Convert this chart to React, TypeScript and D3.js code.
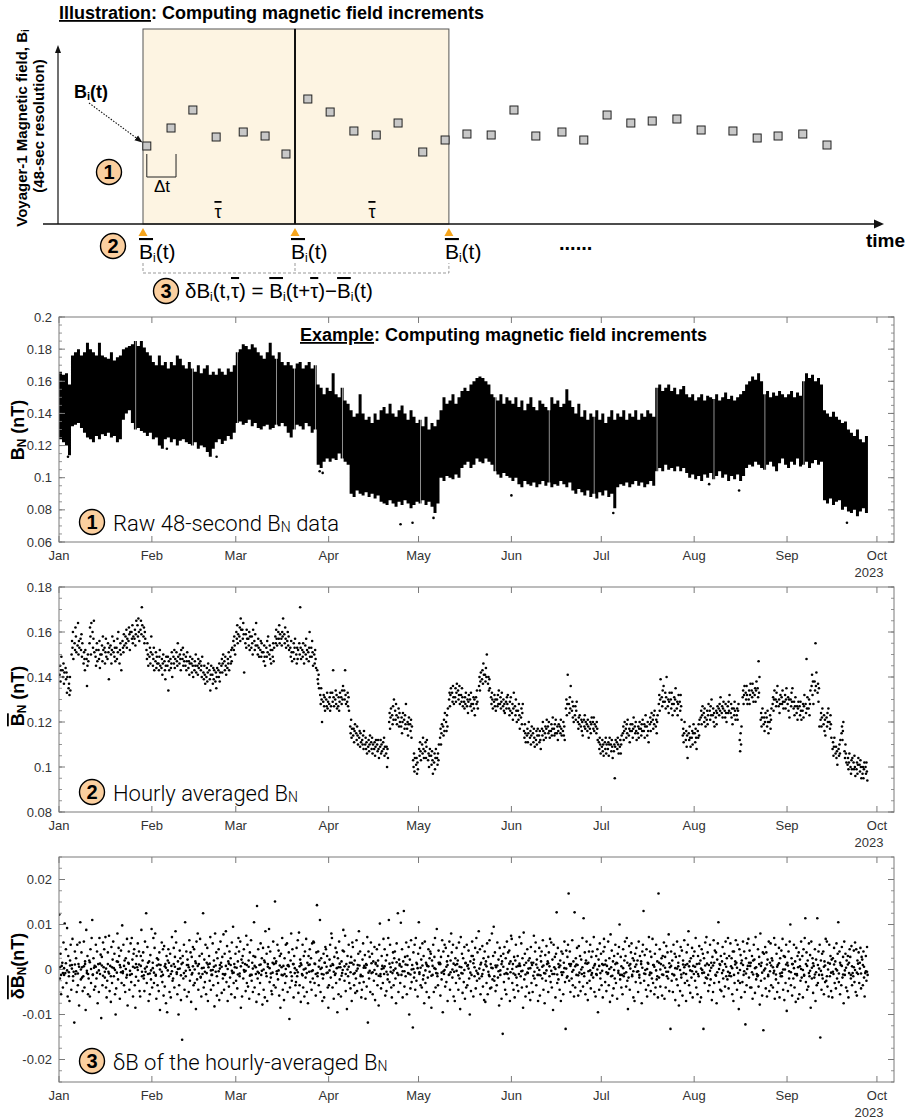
import React from "react";
import * as d3 from "d3";

// ---------------- DATA ----------------
const MONTH_START = [0, 31, 59, 90, 120, 151, 181, 212, 243];
const YEAR_LABEL = "2023";

// Illustration: sample times (s, 48-s cadence) and field values (arbitrary units)
const illusTimes = [8, 59, 105, 154, 211, 257, 301, 347, 394, 444, 491, 537, 589, 636, 682, 733, 781, 827, 882, 928, 977, 1027, 1072, 1124, 1175, 1242, 1293, 1337, 1389, 1440];
const illusValues = [78, 96, 114, 87, 92, 88, 70, 125, 112, 93, 89, 101, 72, 84, 90, 89, 114, 88, 92, 84, 109, 101, 103, 105, 94, 93, 86, 88, 90, 79];
const windowEdges = [0, 320, 644];

// Panel 1: raw 48-s BN daily envelope, "low high" in 0.001 nT
const rawMonths = [
  "124 166,122 164,120 165,114 158,132 176,133 178,134 180,131 176,128 178,125 184,124 180,122 178,126 176,124 184,127 176,126 175,128 174,125 178,126 173,122 175,124 176,136 180,140 181,142 182,134 183,130 185,131 182,129 185,128 181,126 178,128 176",
  "124 172,125 170,120 176,118 170,124 172,125 168,122 172,124 170,120 176,123 174,124 170,122 168,121 172,120 168,122 166,118 170,120 165,119 168,116 170,113 164,118 166,122 164,124 168,121 166,123 164,126 168,124 166,128 170",
  "134 178,135 180,133 183,134 182,136 180,132 183,134 181,131 178,130 176,132 174,133 178,130 184,131 176,133 174,132 178,134 172,132 170,128 172,125 170,130 168,133 171,132 172,130 168,134 170,132 172,128 168,130 170,108 158,106 156,110 152,112 156",
  "110 154,112 165,111 152,115 150,112 156,110 148,108 146,90 142,88 138,92 140,90 152,89 140,91 136,88 138,90 134,87 140,89 136,85 142,84 144,83 140,86 146,84 140,82 138,85 142,83 145,86 140,84 136,81 142,83 138,85 134",
  "84 136,86 132,83 138,85 130,82 134,78 132,84 136,100 142,98 150,101 146,100 148,99 152,102 146,100 150,106 154,108 156,110 154,106 158,108 160,112 162,110 163,109 162,112 160,110 158,108 152,104 150,102 148,100 152,103 146,101 150,100 148",
  "98 146,100 150,96 144,94 148,98 142,96 146,95 150,97 144,94 142,96 148,98 146,95 144,97 142,94 150,96 146,95 148,98 144,96 146,94 155,97 148,92 144,90 140,93 146,91 138,89 142,92 136,88 140,90 138,87 142,91 136",
  "89 140,92 134,88 138,90 142,81 136,94 140,96 138,95 142,97 136,94 140,96 138,98 142,95 136,97 140,94 138,96 142,98 140,95 138,104 156,106 158,104 154,108 156,105 158,106 154,104 156,107 152,104 155,106 157,103 152,100 150,102 152",
  "99 148,101 150,98 152,102 148,100 151,103 150,99 149,101 152,104 148,100 150,102 153,98 149,101 151,99 148,102 150,98 152,101 154,106 158,108 160,107 163,110 161,108 165,106 160,105 152,108 154,110 150,107 153,104 151,109 154,112 152,108 150",
  "106 152,110 154,108 150,112 153,107 151,108 160,110 165,106 162,109 164,111 160,108 162,110 158,86 142,84 140,87 138,83 141,85 138,86 136,80 134,82 135,79 130,78 128,80 126,76 130,79 124,81 122,78 126",
];
const rawGapDays = [25, 44, 59, 72, 78, 85, 94, 120, 145, 163, 178, 199, 218, 235, 248];
const rawOutlierDays = [3, 36, 52.6, 87, 88, 114, 118, 151, 217, 227, 263, 185, 125];
const rawOutlierValues = [0.113, 0.118, 0.113, 0.104, 0.103, 0.071, 0.072, 0.089, 0.096, 0.092, 0.072, 0.078, 0.075];

// Panel 2: hourly averaged BN, values per day in 0.001 nT
const hourlyMonths = [
  "141 145 138 143 149;143 140 146 137 142;144 139 142 133 140;135 137 132 140 134;150 156 153 160 148;155 152 162 158 151;154 164 150 156 153;157 152 159 149 155;146 151 148 143 152;148 136 145 150 147;155 162 158 150 164;160 153 157 165 151;149 145 152 155 147;152 148 156 144 150;150 154 147 158 152;153 146 151 157 149;148 155 151 139 153;154 150 146 152 158;151 156 149 153 147;153 148 157 151 160;146 152 155 150 143;156 153 151 159 154;158 155 161 153 157;156 162 159 152 160;160 157 163 155 158;157 161 154 159 165;163 158 166 160 156;161 165 159 171 163;158 162 155 160 157;152 148 155 150 145;149 153 146 151 158",
  "150 145 148 153 143;147 151 144 149 146;146 143 149 152 145;144 148 141 146 150;147 143 139 145 149;145 149 134 147 143;148 144 146 151 140;149 146 152 144 148;151 147 145 155 149;146 150 148 143 152;148 153 145 150 147;145 149 143 147 151;144 147 141 146 149;146 142 148 145 140;143 147 145 150 142;145 141 148 144 146;147 143 145 140 149;142 139 145 141 137;140 144 138 142 146;143 139 134 141 145;141 137 144 139 143;138 142 135 140 144;143 140 146 138 142;145 148 142 146 150;147 143 149 145 141;144 148 146 151 143;149 146 152 147 153;156 152 158 154 150",
  "160 157 163 155 159;158 162 156 166 161;161 157 164 159 142;155 159 153 161 157;157 154 160 152 158;153 158 155 150 161;156 152 159 154 164;154 150 157 153 149;152 156 149 155 151;151 147 154 149 145;153 149 156 151 158;150 154 148 152 146;152 149 155 147 153;158 155 161 157 154;160 157 163 155 159;157 154 160 158 166;159 155 162 157 153;156 160 154 158 152;153 149 156 151 147;151 155 148 153 157;150 146 153 148 152;155 150 171 153 148;152 149 155 151 146;154 150 157 148 152;151 147 153 160 149;153 149 156 151 145;150 146 152 148 144;143 139 137 141 135;132 128 135 130 120;129 132 127 131 125;130 127 133 126 129",
  "128 131 125 133 127;133 129 143 131 127;130 134 128 132 126;127 131 125 129 133;131 128 134 130 136;134 130 143 132 128;129 133 127 131 125;118 115 121 113 117;114 117 111 116 119;115 112 118 114 110;113 116 109 115 111;112 110 114 108 116;110 113 108 111 106;109 112 107 110 114;111 108 113 106 110;108 111 105 109 112;110 107 112 108 104;109 112 106 110 107;111 108 113 105 109;106 109 100 108 104;120 124 117 122 126;123 119 127 121 130;125 121 128 123 119;122 126 118 124 120;118 122 115 120 124;121 117 123 119 128;117 120 114 119 122;119 116 121 113 118;103 100 106 98 104;101 104 97 102 99",
  "108 105 111 107 103;110 106 113 108 104;107 111 104 109 112;103 106 100 105 108;105 101 107 103 97;102 106 99 104 108;104 101 106 103 110;113 117 110 115 119;118 114 121 116 124;120 116 123 118 126;130 133 127 132 135;133 129 136 131 128;131 135 129 133 137;134 130 132 136 128;132 129 135 131 127;129 126 131 128 133;127 130 124 129 132;130 127 133 128 125;128 131 126 130 123;131 128 134 129 126;136 140 134 138 142;139 143 137 146 141;141 138 144 140 150;137 140 134 139 135;131 128 133 130 126;129 132 127 130 125;130 127 132 128 134;128 131 126 129 133;127 130 125 128 124;129 126 131 128 132;126 123 129 125 131",
  "124 128 121 126 133;127 123 130 125 120;125 121 128 123 117;122 126 119 124 128;116 113 119 115 111;114 117 111 115 120;113 116 110 114 118;115 111 117 113 109;112 116 110 114 117;114 111 116 112 108;117 114 120 116 112;115 118 113 117 121;118 115 120 116 113;116 119 114 117 122;117 114 119 115 121;115 118 112 116 119;118 115 121 117 114;116 120 114 118 112;126 130 123 128 141;128 124 131 126 136;125 129 122 127 120;123 127 121 125 129;120 117 122 119 123;118 121 116 120 114;121 118 123 117 120;119 116 121 118 113;117 120 115 119 122;120 117 122 116 119;118 115 120 117 112;111 108 113 110 106",
  "109 112 107 110 105;111 108 113 106 110;108 111 105 110 113;110 107 112 109 104;107 110 95 109 112;111 108 113 110 106;109 112 106 110 114;115 118 112 116 120;117 113 119 115 121;114 117 111 116 119;116 119 113 117 122;118 115 120 116 112;115 118 113 117 120;117 114 119 116 121;116 119 113 118 123;118 114 120 116 111;119 122 116 120 124;121 117 123 119 125;118 121 115 120 123;128 132 125 130 139;131 127 134 129 136;129 133 126 131 140;127 130 124 129 133;130 126 133 128 123;128 131 125 130 135;126 129 123 128 132;129 125 132 127 121;114 117 111 115 120;112 116 109 114 104;115 112 118 113 109;113 116 110 115 119",
  "115 111 117 113 108;116 113 119 114 121;122 125 119 123 127;124 120 126 122 118;121 125 119 123 128;125 121 127 123 130;123 126 120 124 118;122 125 119 124 127;126 123 128 125 131;124 127 122 126 129;125 122 128 124 120;127 124 129 125 132;124 128 122 126 119;126 123 129 125 121;123 126 121 125 128;112 107 115 110 118;131 134 128 132 136;133 130 136 132 128;130 134 128 132 137;134 131 137 133 129;132 135 129 134 138;135 131 147 133 140;121 124 118 122 126;119 122 116 120 124;122 118 125 120 115;120 123 117 121 126;128 131 125 130 134;130 127 133 129 136;127 130 124 128 132;131 128 134 129 126;129 132 126 130 135",
  "128 131 125 130 122;130 127 133 129 135;126 129 123 127 131;124 127 121 126 129;127 123 129 125 121;125 128 122 127 132;128 124 148 126 131;126 130 123 128 134;136 141 132 138 128;138 134 155 136 142;133 137 129 135 118;121 124 118 122 126;119 123 116 121 114;122 118 124 120 126;120 117 123 119 113;108 111 105 109 113;106 109 104 107 101;108 105 110 106 112;115 118 112 116 120;107 104 110 106 102;101 104 99 102 106;100 97 103 99 104;102 99 105 100 96;99 102 97 101 104;101 98 103 100 95;97 100 95 99 102;100 97 102 98 94",
];

// Panel 3: increments of the hourly-averaged BN, per day in 0.0001 nT
const deltaMonths = [
  "122 -20 35 -55 8;15 -40 60 -12 102;-8 45 -30 92 -60;30 -15 -70 20 55;-45 10 68 -25 -5;-118 40 -10 25 -50;55 -35 12 -80 60;105 -22 38 5 -48;-15 62 -40 18 -90;88 -8 30 -55 -20;20 -60 45 -30 70;110 -12 25 -45 8;-38 55 -20 40 -75;12 -50 70 -10 33;-108 28 -35 60 5;45 -18 72 -40 -62;-25 38 -5 75 -48;8 -72 50 -30 22;62 -15 35 -55 -100;-42 18 80 -22 48;30 -65 5 42 -30;98 -8 55 -35 20;-50 25 -18 68 -80;15 40 -45 -12 58;-28 70 22 -60 35;45 -35 -85 12 30;5 58 -25 40 -48;-60 30 88 -15 20;38 -20 -48 62 -5;125 -30 50 -10 -70;18 -55 32 -22 90",
  "-40 15 70 -30 48;80 -12 -65 25 -35;22 -48 38 -90 10;-15 60 -28 45 -58;52 -38 12 -75 30;-95 20 45 -15 -50;35 -62 8 72 -25;-20 48 -40 28 85;60 -10 -55 18 -100;-35 42 25 -68 12;-156 30 -20 55 -45;105 -15 40 -60 22;10 -50 65 -25 38;-72 28 -8 50 -35;45 -30 18 -88 62;-22 80 -45 12 30;68 -18 -60 35 -10;125 -40 22 -28 55;-55 15 48 -70 5;30 -25 72 -45 -12;-12 58 -35 20 -82;80 -5 38 -58 25;-30 45 -68 10 62;15 -52 28 -20 78;-45 35 -10 85 -28;52 -70 18 -38 40;-18 25 -55 60 -8;95 -30 12 -62 35",
  "-25 50 -42 18 70;40 -15 62 -85 22;-60 30 -20 45 -5;12 -48 75 -30 55;-38 20 -65 38 -12;65 -25 15 -50 30;105 -40 28 -10 -72;141 -20 45 -55 10;-30 58 -12 25 -78;48 -45 20 -62 85;-8 35 -70 12 50;90 -28 40 -18 -48;-55 15 62 -35 25;151 -40 18 -10 55;-22 42 -58 30 -85;35 -12 70 -45 8;-68 25 -30 55 -15;58 -50 10 38 -110;-40 20 80 -25 45;12 -62 30 -8 -35;-28 48 -15 65 -52;82 -35 22 -72 10;-10 55 -40 30 -60;40 -18 68 -50 15;-75 30 -5 45 -28;25 -45 58 -20 62;60 -30 12 -58 38;143 -15 40 -35 20;110 -50 25 -10 -70;-20 35 -62 15 50;45 -8 30 -40 -85",
  "-35 22 55 -18 80;70 -40 10 -65 28;-12 48 -30 38 -95;25 -55 62 -22 5;-60 18 -8 42 88;40 -25 75 -48 12;-88 30 -15 55 -30;15 -42 28 -70 60;50 -10 -35 20 -52;-20 65 -48 10 35;85 -30 40 -15 -62;-45 22 58 -28 8;32 -65 12 -38 72;-118 40 -20 28 -50;60 -8 35 -55 18;-25 50 -68 15 -10;45 -35 20 -80 55;102 -15 -42 30 8;-30 68 -10 45 -58;20 -48 32 -22 70;110 -28 55 -5 -40;-62 15 38 -35 25;40 -20 -75 58 -8;125 -50 22 12 -30;104 -12 45 -62 18;130 -38 28 -15 60;-55 30 -8 50 -100;22 -42 65 -28 10;-129 38 -18 55 -45;70 -25 12 -60 35",
  "105 -10 48 -35 22;-40 58 -22 30 -75;62 -30 15 -50 8;-18 45 -62 25 40;35 -85 20 -12 55;-50 28 70 -40 -8;90 -15 -35 42 12;15 -58 28 -22 65;-95 40 -10 55 -38;48 -28 18 -70 30;-12 62 -45 20 80;38 -18 55 -60 -5;-70 25 -30 48 12;20 -45 60 -20 -88;72 -8 35 -52 25;-28 50 -65 15 -40;55 -35 10 42 -20;-100 18 -48 30 62;30 -60 22 -15 48;-42 70 -25 38 -10;85 -20 45 -55 15;-15 52 -38 25 -68;40 -72 18 -30 58;-55 28 -12 65 -42;12 -40 80 -22 30;95 -25 38 -48 5;-35 60 -18 22 -80;48 -12 30 -65 18;-143 35 -28 50 -45;25 -55 62 -10 38;-20 42 -70 18 75",
  "68 -30 12 -45 28;-62 20 55 -18 -35;30 -48 -10 72 8;-15 58 -40 25 -85;82 -22 35 -60 15;-38 45 -8 20 -52;25 -68 50 -30 10;-50 15 75 -20 40;60 -35 22 -12 -70;-12 48 -58 30 18;40 -20 65 -45 -8;-75 32 -25 52 12;18 -50 38 -15 68;-28 60 -40 22 -90;55 -10 28 -62 35;127 -30 48 -22 5;-45 20 -70 40 -12;35 -55 15 62 -28;-132 42 -18 28 55;169 -25 40 -50 12;-20 65 -35 18 -60;127 -40 25 -12 48;10 -58 52 -28 30;-48 22 -10 70 -38;114 -15 38 -55 20;62 -30 -68 15 40;-25 55 -42 28 -8;40 -18 72 -50 12;-60 30 -12 45 -95;22 -45 58 -20 35",
  "-35 12 -62 40 68;50 -28 20 -48 8;-10 62 -35 25 -72;78 -15 42 -58 18;-42 30 -20 55 -30;15 -65 35 -8 50;100 -22 28 -40 -12;-55 45 -15 20 62;30 -38 70 -25 -88;-18 52 -45 12 38;58 -12 25 -62 20;-70 35 -28 48 -5;20 -50 62 -18 30;-30 18 -75 40 55;130 -25 32 -10 -45;45 -60 15 -35 72;-12 40 -48 28 -20;68 -30 10 -55 35;-40 55 -22 18 -62;169 -18 45 -38 12;25 -58 30 -12 60;-65 28 -40 52 -15;38 -20 78 -48 5;-132 40 -25 20 -50;55 -12 35 -68 28;-22 62 -35 15 -80;30 -48 50 -18 42;-58 20 -8 65 -30;10 -70 38 -25 55;85 -35 18 -52 25;-18 48 -62 30 -10",
  "40 -25 70 -40 12;-55 30 -15 52 -72;20 -62 45 -8 35;-132 25 -30 60 -18;72 -20 38 -48 10;-35 55 -22 15 -68;28 -50 65 -30 42;-12 38 -75 22 58;105 -28 12 -45 30;-48 18 50 -20 -60;35 -38 62 -15 25;-22 70 -42 30 -8;58 -15 25 -55 40;-70 40 -30 18 65;15 -45 55 -25 -88;45 -30 32 -62 20;-28 62 -12 40 -50;-122 25 -35 58 8;68 -18 42 -40 15;-40 30 -65 20 55;22 -52 72 -22 -10;-15 45 -38 28 -78;80 -25 15 -58 38;-135 35 -20 50 -42;38 -60 22 -12 62;-48 15 58 -35 25;20 -40 -8 70 -65;55 -22 35 -50 10;-30 48 -62 25 -15;42 -15 68 -45 30;-68 28 -30 55 -92",
  "15 -48 40 -20 62;100 -35 25 -58 12;-20 55 -40 18 -72;48 -10 30 -65 38;-55 22 -25 62 -18;30 -62 45 -12 70;114 -28 38 -45 20;-38 58 -15 32 -85;62 -20 25 -52 8;-18 45 -70 22 -35;114 -30 40 -12 55;-151 20 -45 35 -20;40 -55 18 -28 68;-25 62 -38 15 -60;55 -15 30 -48 22;-62 25 -10 48 -30;18 -42 58 -20 35;105 -28 40 -55 10;-35 50 -18 28 -75;62 -12 35 -40 20;-48 30 -62 15 45;28 -20 52 -35 -8;-15 42 -28 60 -50;45 -58 20 -10 38;-30 15 48 -42 28;22 -35 40 -18 -60;-8 30 -25 50 -12",
];
// Panel 3: additional near-zero increments per day (0.0001 nT)
const deltaCoreMonths = [
  "5 -12;-8 3;14 -2;-6 9;2 -15;11 -4;-9 6;0 -18;7 12;-3 -10;16 1;-11 4;6 -7;-2 13;9 -14;-5 2;12 -9;-15 5;3 -1;-7 17;10 -6;-4 8;1 -12;13 -3;-10 6;4 -16;-1 11;8 -5;-13 2;6 15;-9 -2",
  "3 -7;-14 9;11 0;-5 -12;7 4;-2 15;-10 -4;12 6;-6 1;2 -13;15 -8;-3 10;5 -1;-11 7;0 14;8 -9;-16 3;4 -5;-8 11;13 -2;-1 6;9 -15;-4 2;6 -10;-12 8;1 13;10 -3;-7 5",
  "4 -11;-9 7;15 -1;-3 10;6 -14;-12 2;8 5;-5 -8;11 -3;0 16;-15 6;3 -9;-7 12;14 -4;-2 9;5 -13;-10 1;9 7;-6 -15;12 3;-1 -6;7 14;-13 0;2 -8;10 11;-4 -2;13 -10;-8 6;1 4;-11 15;6 -7",
  "-2 8;12 -5;-9 3;5 13;-14 -1;7 -10;0 6;-6 15;11 -8;-3 2;9 -12;-15 4;4 10;-7 -3;14 -6;-1 12;8 -14;-10 1;3 7;-5 -11;13 5;-8 -2;2 16;-12 9;6 -4;-4 11;10 -9;-11 0;1 -7;15 3",
  "-6 4;9 -13;-2 11;7 -5;-14 8;3 1;-9 15;12 -7;-4 -1;6 10;-11 -6;0 13;10 -3;-13 6;5 -9;-1 14;8 2;-7 -12;14 5;-3 -8;2 11;-10 -1;11 7;-5 -15;4 3;-15 9;9 -4;-2 12;6 -10;-8 1;13 -6",
  "1 -9;-12 6;8 13;-4 -3;10 -11;-7 2;3 15;-14 -5;11 4;-1 -13;6 9;-9 -2;14 7;-3 -10;5 1;-11 12;9 -6;-6 3;2 -15;12 8;-5 -1;7 11;-13 -7;0 5;-8 14;13 -4;-2 -12;4 9;-10 0;8 -8",
  "-3 10;11 -6;-8 1;5 -14;-1 12;14 -3;-12 7;3 -9;-6 15;9 2;-15 -4;6 11;-4 -12;12 4;-9 -1;1 13;-7 -8;10 6;-2 -15;15 0;-11 9;4 -5;-5 14;8 -10;-13 3;2 7;-1 -11;11 5;-10 12;7 -2;-4 8",
  "6 -5;-10 13;2 -1;-7 9;13 -12;-3 4;9 15;-14 -6;1 10;-8 -2;12 6;-5 -14;7 3;-12 11;4 -8;-1 14;10 -4;-9 1;15 8;-6 -11;3 5;-13 12;8 -7;-2 2;11 -15;-4 9;5 -3;-11 6;14 -9;-7 0;0 11",
  "9 -4;-6 12;3 -10;-13 5;7 1;-1 -14;12 8;-8 -3;4 14;-11 -6;10 2;-3 -12;6 9;-15 0;13 -7;-5 11;1 -2;-9 15;8 -11;-2 4;11 -8;-12 7;5 -1;-7 13;2 -9;10 6;-4 -5",
];

const p1Ticks = [0.06, 0.08, 0.1, 0.12, 0.14, 0.16, 0.18, 0.2];
const p2Ticks = [0.08, 0.1, 0.12, 0.14, 0.16, 0.18];
const p3Ticks = [-0.02, -0.01, 0, 0.01, 0.02];

// ---------------- PARSING ----------------
type DayVals = { day: number; vals: number[] };
function parseDaily(months: string[], sep: string): DayVals[] {
  const out: DayVals[] = [];
  months.forEach((m, mi) => {
    m.split(sep).forEach((s, i) => {
      const t = s.trim();
      if (!t) return;
      out.push({ day: MONTH_START[mi] + i, vals: t.split(/\s+/).map(Number) });
    });
  });
  return out;
}
const rawDays = parseDaily(rawMonths, ",");
const hourlyDays = parseDaily(hourlyMonths, ";");
const deltaDays = parseDaily(deltaMonths, ";");
const deltaCoreDays = parseDaily(deltaCoreMonths, ";");

// ---------------- LAYOUT ----------------
const W = 909;
const H = 1120;
const SANS = "'Liberation Sans', Arial, Helvetica, sans-serif";
const LIGHT = "Roboto, 'Liberation Sans', sans-serif";
const AX = "#7a7a7a";
const PEACH = "#fbcf9f";
const DAY = 864e5;
const T0 = Date.UTC(2023, 0, 1);
const PL = 59;
const PR = 894;

const x = d3.scaleUtc().domain([new Date(T0), new Date(T0 + 278.7 * DAY)]).range([PL, PR]);
const dayX = (d: number) => x(new Date(T0 + d * DAY));
const monthTicks = d3.utcMonth.range(new Date(T0), new Date(Date.UTC(2023, 9, 2)));
const fmtMonth = d3.utcFormat("%b");
const fmtY = (v: number) => String(Math.round(v * 1000) / 1000);

const ol: React.CSSProperties = { textDecoration: "overline" };
const ul: React.CSSProperties = { textDecoration: "underline" };

function NumCircle({ cx, cy, n }: { cx: number; cy: number; n: string }) {
  return (
    <g>
      <circle cx={cx} cy={cy} r={12.5} fill={PEACH} stroke="#000" strokeWidth={1.4} />
      <text x={cx} y={cy + 7} textAnchor="middle" fontSize={20} fontWeight="bold" fontFamily={SANS}>{n}</text>
    </g>
  );
}

function PanelFrame({ top, bottom, y, ticks, minor, children, clipId }: any) {
  const [d0, d1] = y.domain();
  const minors: number[] = [];
  for (let v = d0; v <= d1 + 1e-9; v += minor) minors.push(v);
  return (
    <g>
      <defs>
        <clipPath id={clipId}><rect x={PL} y={top} width={PR - PL} height={bottom - top} /></clipPath>
      </defs>
      <g clipPath={`url(#${clipId})`}>{children}</g>
      <rect x={PL} y={top} width={PR - PL} height={bottom - top} fill="none" stroke={AX} strokeWidth={1} />
      {minors.map((v, i) => (
        <g key={"m" + i} stroke={AX} strokeWidth={0.8}>
          <line x1={PL} x2={PL + 3} y1={y(v)} y2={y(v)} />
          <line x1={PR} x2={PR - 3} y1={y(v)} y2={y(v)} />
        </g>
      ))}
      {ticks.map((v: number, i: number) => (
        <g key={"t" + i}>
          <line x1={PL} x2={PL + 6} y1={y(v)} y2={y(v)} stroke={AX} strokeWidth={1} />
          <line x1={PR} x2={PR - 6} y1={y(v)} y2={y(v)} stroke={AX} strokeWidth={1} />
          <text x={PL - 7} y={y(v) + 4.5} textAnchor="end" fontSize={13} fill="#333" fontFamily={SANS}>{fmtY(v)}</text>
        </g>
      ))}
      {monthTicks.map((m, i) => (
        <g key={"x" + i}>
          <line x1={x(m)} x2={x(m)} y1={bottom} y2={bottom - 6} stroke={AX} strokeWidth={1} />
          <line x1={x(m)} x2={x(m)} y1={top} y2={top + 6} stroke={AX} strokeWidth={1} />
          <text x={x(m)} y={bottom + 18} textAnchor="middle" fontSize={13} fill="#333" fontFamily={SANS}>{fmtMonth(m)}</text>
        </g>
      ))}
      <text x={x(monthTicks[monthTicks.length - 1]) - 8} y={bottom + 35} textAnchor="middle" fontSize={13} fill="#333" fontFamily={SANS}>{YEAR_LABEL}</text>
    </g>
  );
}

function Illustration() {
  const xI = d3.scaleLinear().domain([0, 48]).range([143, 143 + 22.8]);
  const yI = d3.scaleLinear().domain([0, 177]).range([224, 47]);
  const ex = windowEdges.map((e) => xI(e));
  return (
    <g fontFamily={SANS}>
      <defs>
        <marker id="arr" viewBox="0 0 10 10" refX="9" refY="5" markerWidth="7" markerHeight="7" orient="auto">
          <path d="M0,1 L10,5 L0,9 Z" fill="#111" />
        </marker>
      </defs>
      <text x={59} y={19} fontSize={18} fontWeight="bold"><tspan style={ul}>Illustration</tspan>: Computing magnetic field increments</text>
      <rect x={ex[0]} y={29} width={ex[1] - ex[0]} height={yI(0) - 29} fill="#fdf4e2" stroke="#555" strokeWidth={1} />
      <rect x={ex[1]} y={29} width={ex[2] - ex[1]} height={yI(0) - 29} fill="#fdf4e2" stroke="#555" strokeWidth={1} />
      <line x1={ex[1]} x2={ex[1]} y1={29} y2={yI(0)} stroke="#111" strokeWidth={2} />
      <line x1={43} x2={876} y1={yI(0)} y2={yI(0)} stroke="#111" strokeWidth={1.3} />
      <path d={`M874,${yI(0) - 4.5} L884,${yI(0)} L874,${yI(0) + 4.5} Z`} fill="#111" />
      <line x1={58} x2={58} y1={yI(0)} y2={52} stroke="#111" strokeWidth={1.2} />
      <path d="M55,53 L58,45 L61,53 Z" fill="#111" />
      <text x={866} y={247} fontSize={19} fontWeight="bold">time</text>
      <text transform="translate(27,128) rotate(-90)" textAnchor="middle" fontSize={15} fontWeight="bold">Voyager-1 Magnetic field, B<tspan fontSize={10} dy={2}>i</tspan></text>
      <text transform="translate(44,126) rotate(-90)" textAnchor="middle" fontSize={15} fontWeight="bold">(48-sec resolution)</text>
      {illusTimes.map((t, i) => (
        <rect key={i} x={xI(t) - 4} y={yI(illusValues[i]) - 4} width={8} height={8} fill="#c8c8c8" stroke="#222" strokeWidth={1} />
      ))}
      <text x={74} y={98} fontSize={18} fontWeight="bold">B<tspan fontSize={11} dy={2}>i</tspan><tspan dy={-2}>(t)</tspan></text>
      <line x1={89} y1={103} x2={xI(illusTimes[0]) - 5} y2={yI(illusValues[0]) - 4} stroke="#111" strokeWidth={1.1} strokeDasharray="1.5,1.5" markerEnd="url(#arr)" />
      <path d={`M${xI(illusTimes[0])},154 V177 H${xI(illusTimes[1]) + 5} V154`} fill="none" stroke="#222" strokeWidth={1} />
      <text x={162} y={192} textAnchor="middle" fontSize={17}>Δt</text>
      <text x={(ex[0] + ex[1]) / 2 - 1} y={218} textAnchor="middle" fontSize={18}><tspan style={ol}>τ</tspan></text>
      <text x={(ex[1] + ex[2]) / 2} y={218} textAnchor="middle" fontSize={18}><tspan style={ol}>τ</tspan></text>
      <NumCircle cx={109} cy={172} n="1" />
      <NumCircle cx={113} cy={246} n="2" />
      {ex.map((e, i) => (
        <g key={i}>
          <path d={`M${e - 4.5},236 L${e + 4.5},236 L${e},228 Z`} fill="#f6a51d" />
          <text x={e - 4} y={259} fontSize={21}><tspan style={ol}>B</tspan><tspan fontSize={12} dy={3}>i</tspan><tspan dy={-3}>(t)</tspan></text>
        </g>
      ))}
      <text x={559} y={250} fontSize={20} fontWeight="bold">......</text>
      <path d={`M${ex[0]},263 V273 H${ex[2]} V263 M${ex[1]},263 V273`} fill="none" stroke="#999" strokeWidth={1} strokeDasharray="3,2" />
      <NumCircle cx={166} cy={291} n="3" />
      <text x={185} y={298} fontSize={20.5}>
        δB<tspan fontSize={12} dy={3}>i</tspan><tspan dy={-3}>(t,</tspan><tspan style={ol}>τ</tspan>) = <tspan style={ol}>B</tspan><tspan fontSize={12} dy={3}>i</tspan><tspan dy={-3}>(t+</tspan><tspan style={ol}>τ</tspan>)−<tspan style={ol}>B</tspan><tspan fontSize={12} dy={3}>i</tspan><tspan dy={-3}>(t)</tspan>
      </text>
    </g>
  );
}

export default function App() {
  const y1 = d3.scaleLinear().domain([0.06, 0.2]).range([542, 317]);
  const y2 = d3.scaleLinear().domain([0.08, 0.18]).range([812, 587]);
  const y3 = d3.scaleLinear().domain([-0.025, 0.025]).range([1082, 857]);
  const last = rawDays[rawDays.length - 1];
  const bandData = [...rawDays, { day: last.day + 1, vals: last.vals }];
  const band = d3
    .area<DayVals>()
    .x((d) => dayX(d.day))
    .y0((d) => y1(d.vals[0] / 1000))
    .y1((d) => y1(d.vals[1] / 1000))
    .curve(d3.curveStepAfter)(bandData) as string;
  return (
    <svg width={W} height={H} viewBox={`0 0 ${W} ${H}`} style={{ position: "absolute", left: 0, top: 0, background: "#fff" }} fontFamily={SANS}>
      <rect width={W} height={H} fill="#fff" />
      <Illustration />

      {/* Panel 1 */}
      <PanelFrame top={317} bottom={542} y={y1} ticks={p1Ticks} minor={0.005} clipId="c1">
        <path d={band} fill="#000" />
        {rawGapDays.map((g) => (
          <rect key={"g" + g} x={dayX(g + 0.5)} width={0.7} y={317} height={225} fill="#fff" opacity={0.8} />
        ))}
        {rawOutlierDays.map((d, i) => (
          <circle key={"o" + i} cx={dayX(d)} cy={y1(rawOutlierValues[i])} r={1.3} fill="#000" />
        ))}
      </PanelFrame>
      <text x={300} y={341} fontSize={18} fontWeight="bold"><tspan style={ul}>Example</tspan>: Computing magnetic field increments</text>
      <text transform="translate(24,430) rotate(-90)" textAnchor="middle" fontSize={18} fontWeight="bold">B<tspan fontSize={12} dy={2}>N</tspan><tspan dy={-2}> (nT)</tspan></text>
      <NumCircle cx={92} cy={522} n="1" />
      <text x={113} y={531} fontSize={22} fontFamily={LIGHT} fontWeight={300}>Raw 48-second B<tspan fontSize={14} dy={1}>N</tspan><tspan dy={-1}> data</tspan></text>

      {/* Panel 2 */}
      <PanelFrame top={587} bottom={812} y={y2} ticks={p2Ticks} minor={0.005} clipId="c2">
        {hourlyDays.map((d) => d.vals.map((v, k) => (
          <circle key={d.day + "-" + k} cx={dayX(d.day + 0.2 + k * 0.15)} cy={y2(v / 1000)} r={1.3} fill="#000" />
        )))}
      </PanelFrame>
      <text transform="translate(24,696) rotate(-90)" textAnchor="middle" fontSize={18} fontWeight="bold"><tspan style={ol}>B</tspan><tspan fontSize={12} dy={2}>N</tspan><tspan dy={-2}> (nT)</tspan></text>
      <NumCircle cx={92} cy={792} n="2" />
      <text x={113} y={801} fontSize={22} fontFamily={LIGHT} fontWeight={300}>Hourly averaged B<tspan fontSize={14} dy={1}>N</tspan></text>

      {/* Panel 3 */}
      <PanelFrame top={857} bottom={1082} y={y3} ticks={p3Ticks} minor={0.0025} clipId="c3">
        {deltaDays.map((d) => d.vals.map((v, k) => (
          <circle key={d.day + "-" + k} cx={dayX(d.day + 0.1 + k * 0.2)} cy={y3(v / 10000)} r={1.3} fill="#000" />
        )))}
        {deltaCoreDays.map((d) => d.vals.map((v, k) => (
          <circle key={"c" + d.day + "-" + k} cx={dayX(d.day + 0.3 + k * 0.4)} cy={y3(v / 10000)} r={1.3} fill="#000" />
        )))}
      </PanelFrame>
      <text transform="translate(24,966) rotate(-90)" textAnchor="middle" fontSize={18} fontWeight="bold"><tspan style={ol}>δB</tspan><tspan fontSize={12} dy={2}>N</tspan><tspan dy={-2}>(nT)</tspan></text>
      <NumCircle cx={92} cy={1061} n="3" />
      <text x={113} y={1070} fontSize={22} fontFamily={LIGHT} fontWeight={300}>δB of the hourly-averaged B<tspan fontSize={14} dy={1}>N</tspan></text>
    </svg>
  );
}
